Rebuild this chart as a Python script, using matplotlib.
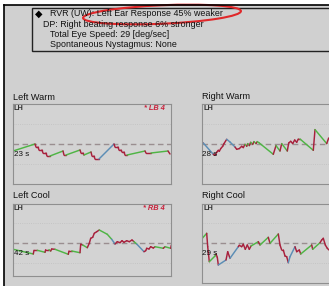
import matplotlib
matplotlib.use("Agg")
import matplotlib.pyplot as plt
from matplotlib.patches import Rectangle, Ellipse

plt.rcParams['font.family'] = ['Liberation Sans', 'DejaVu Sans']

W, H = 329, 286

# ---------------- data ----------------
summary_lines = ["RVR (UW): Left Ear Response 45% weaker",
                 "DP: Right beating response 6% stronger",
                 "Total Eye Speed: 29 [deg/sec]",
                 "Spontaneous Nystagmus: None"]

panel_titles = ["Left Warm", "Right Warm", "Left Cool", "Right Cool"]
panel_times = ["23 s", "28 s", "42 s", "29 s"]
panel_flags = ["* LB 4", "", "* RB 4", ""]

lw_x = [0, 22, 23, 25, 26, 29, 30, 33, 34, 37, 50, 51, 53, 67, 68, 70, 71, 78, 79, 81,
        82, 86, 101, 102, 105, 106, 108, 109, 111, 112, 114, 132, 133, 138, 155, 157]
lw_y = [-7, 0, -3, -3, -6, -6, -9, -9, -12, -12, -7, -11, -11, -6, -9, -9, -11, -8, -12, -12,
        -15, -15, 0, -3, -3, -6, -6, -8, -8, -11, -11, -7, -9, -9, -7, -10]
lw_c = "g" + "r" * 8 + "g" + "rr" + "g" + "rrr" + "g" + "rrrr" + "b" + "r" * 8 + "g" + "rr" + "g" + "r"

rw_x = [0, 1.3, 11.3, 13, 14.7, 16.3, 17.3, 18.7, 20.7, 22, 24.7, 28, 33, 34.7, 37.3, 39.7,
        41.3, 43, 44.7, 45.7, 47.3, 48.7, 50.7, 52, 54, 55.3, 57.3, 71.3, 74, 78, 79.7, 85.3,
        86.7, 88.7, 90.7, 92.7, 94.7, 96.3, 98, 111.3, 113, 124.7, 126.7]
rw_y = [0.7, 1.3, -10, -11, -8, -6, -7, -4.3, -2, 0.7, 5, 2.3, -2.7, -5, -4.3, -2,
        -3.3, 0, -2, 0.7, -1.3, 2, 0, 2.7, 0.7, 2.7, 1.3, -10, -1.3, -6.7, 0.7, -6.7,
        1.3, 3, 0.7, 4.3, 2, 5.3, 5.3, -6, 14.7, 0.7, 6.3]
rw_c = "r" + "b" + "r" * 8 + "bb" + "r" * 5 + "grgrgrgrgg" + "rgrg" + "r" * 7 + "grgr"

lc_x = [0.3, 20.3, 21, 24.3, 32, 32.7, 36, 37.7, 38.7, 42, 55.3, 56, 58.7, 67, 67.7, 69.7,
        74.3, 76.3, 77.7, 79.7, 81.3, 83.7, 86.3, 94.3, 98.7, 102, 104.3, 107, 109, 111,
        113.7, 116.3, 119, 121, 123.7, 131, 132.7, 133.7, 136, 137.7, 140.3, 142, 150.3,
        152, 157.7, 158.3]
lc_y = [-6, -10.7, -7, -7, -9, -6.4, -6.4, -7.7, -5.7, -6, -11, -7.7, -7.7, -9.4, -1, -1.7,
        -4.4, 0, 5, 6, 10, 11.6, 13.3, 9, 4, -0.7, 1.6, 0.6, 2.6, 1,
        2.6, 1.6, 3.3, 1.6, -0.7, -8.4, -7.4, -5, -5.7, -3.4, -4.7, -3.4, -5,
        -3.4, -5, -2]
lc_c = ("g" + "rr" + "g" + "rr" + "g" + "rr" + "g" + "rr" + "g" + "rr" + "g" + "r" * 6 +
        "gg" + "b" + "r" * 8 + "g" + "b" + "r" * 6 + "grgr")

rc_x = [0.3, 4.7, 5.7, 7.3, 13, 14, 15.3, 16.3, 24, 25.7, 28, 36.3, 37.3, 39.7, 41.3, 43.3,
        45.3, 47.3, 49, 56.3, 58, 66.3, 68, 76.3, 78, 79.7, 81.3, 83, 84.7, 86.3, 88, 93,
        94.7, 97.3, 98.7, 109.7, 110.7, 118, 119.7, 121.3, 123.3, 125.3, 127]
rc_y = [5, 10, -3.4, -18.4, -12.7, -10.7, -14, -21.7, -16.7, -8.4, -15, -3.4, -2, -3.4, -1, -6,
        -1.7, -6, -2.7, 1.6, -1.7, 6, 0, 9.3, -1.7, -6.7, -6.7, -12.7, -13.4, -19.4, -13.4, -3.4,
        -8.4, -6.7, -10.7, -1.7, -6, 0.6, 3.3, 5, -1.7, -5, -6.7]
rc_c = ("g" + "rr" + "gg" + "rr" + "b" + "rr" + "b" + "r" * 7 + "g" + "r" + "g" + "r" + "g" +
        "r" * 6 + "bb" + "rrr" + "g" + "r" + "g" + "r" * 5)

traces = [(lw_x, lw_y, lw_c), (rw_x, rw_y, rw_c), (lc_x, lc_y, lc_c), (rc_x, rc_y, rc_c)]

# ---------------- style ----------------
BG = "#d0d0d0"
SEG = {"g": "#4fb545", "r": "#a8203c", "b": "#5b8db5"}

# panel boxes in pixels: (left, top, right, bottom, y of zero line)
boxes = [(13, 104, 171, 184, 144), (202, 104, 360, 184, 144.3),
         (13, 204, 171, 276, 243.3), (202, 204, 360, 283, 243.3)]
title_pos = [(13, 97), (202, 96.5), (13, 196), (202, 196)]

fig = plt.figure(figsize=(W / 100, H / 100), dpi=100)
fig.patch.set_facecolor("white")


def fx(x):
    return x / W


def fy(y):
    return 1 - y / H


# background panel with black frame on left/top
bg = fig.add_axes([0, 0, 1, 1])
bg.set_xlim(0, W)
bg.set_ylim(H, 0)
bg.axis("off")
bg.add_patch(Rectangle((3.5, 5), W, H, facecolor=BG, edgecolor="none"))
bg.plot([3.5, 3.5], [5, H], color="black", lw=1.2)
bg.plot([3.5, W], [5, 5], color="black", lw=1.2)

# summary box
bg.add_patch(Rectangle((32, 7.5), 310, 43.5, facecolor=BG, edgecolor="#222222", lw=1.0))
bg.text(38.5, 13.5, "◆", fontsize=7, ha="center", va="center", color="black")
text_x = [50, 43, 50, 50]
text_y = [14, 24.3, 34.3, 44.5]
for s, tx, ty in zip(summary_lines, text_x, text_y):
    bg.text(tx, ty, s, fontsize=6.4, ha="left", va="center", color="#111111")
bg.add_patch(Ellipse((162, 14.5), 158, 18.5, angle=-2.5, facecolor="none",
                     edgecolor="#e0282a", lw=1.5))

for i, (l, t, r, b, z) in enumerate(boxes):
    ax = fig.add_axes([fx(l), fy(b), (r - l) / W, (b - t) / H])
    ax.set_facecolor("#d3d3d3")
    ax.set_xlim(0, r - l)
    ax.set_ylim(z - b, z - t)
    ax.set_xticks([])
    ax.set_yticks([])
    for sp in ax.spines.values():
        sp.set_color("#8f8f8f")
        sp.set_linewidth(0.8)
    for gy in (20, -20):
        ax.axhline(gy, color="#c0c0c0", lw=0.6, ls=":")
    ax.axhline(0, color="#9a8e90", lw=1.0, ls=(0, (4, 2.5)))
    xs, ys, cs = traces[i]
    for k in range(len(xs) - 1):
        ax.plot(xs[k:k + 2], ys[k:k + 2], color=SEG[cs[k]], lw=1.05,
                solid_capstyle="round")
    ax.text(1, z - t - 1.5, "LH", fontsize=5.3, fontweight="bold", color="#333333",
            ha="left", va="top")
    ax.text(0.5, -10.5, panel_times[i], fontsize=5.8, color="#111111", ha="left", va="center")
    if panel_flags[i]:
        ax.text(152, z - t - 4, panel_flags[i], fontsize=5.3, fontweight="bold",
                fontstyle="italic", color="#c8203a", ha="right", va="center")
    tx, ty = title_pos[i]
    bg.text(tx, ty, panel_titles[i], fontsize=6.6, color="#111111", ha="left", va="center")

fig.savefig("out.png", dpi=100, facecolor="white")
